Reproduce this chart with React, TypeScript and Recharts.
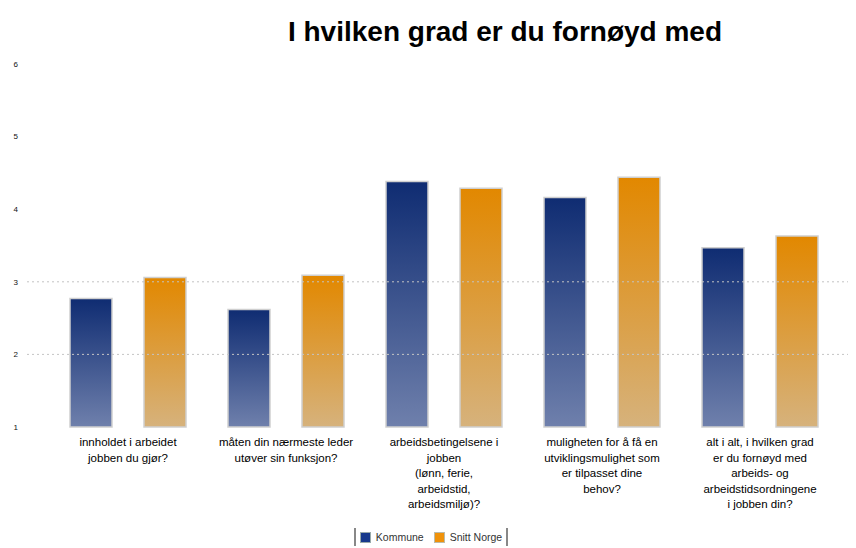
import React from 'react';
import { BarChart, Bar, XAxis, YAxis, ReferenceLine, Legend } from 'recharts';

const categories = [
  'innholdet i arbeidet\njobben du gjør?',
  'måten din nærmeste leder\nutøver sin funksjon?',
  'arbeidsbetingelsene i\njobben\n(lønn, ferie,\narbeidstid,\narbeidsmiljø)?',
  'muligheten for å få en\nutviklingsmulighet som\ner tilpasset dine\nbehov?',
  'alt i alt, i hvilken grad\ner du fornøyd med\narbeids- og\narbeidstidsordningene\ni jobben din?',
];
const kommune = [2.77, 2.62, 4.38, 4.16, 3.47];
const snittNorge = [3.06, 3.09, 4.29, 4.44, 3.63];
const yTicks = [1, 2, 3, 4, 5, 6];
const gridValues = [2, 3];
const seriesNames = ['Kommune', 'Snitt Norge'];

const data = categories.map((c, i) => ({ name: c, kommune: kommune[i], norge: snittNorge[i] }));

const CategoryTick = (props: any) => {
  const { x, y, payload } = props;
  const lines = String(payload.value).split('\n');
  return (
    <text x={x} y={y + 3} textAnchor="middle" fontFamily="Liberation Sans, Arial, sans-serif" fontSize={11.5} fill="#000">
      {lines.map((l, i) => (
        <tspan key={i} x={x} dy={i === 0 ? 8 : 15.5}>{l}</tspan>
      ))}
    </text>
  );
};

const LegendContent = () => (
  <div style={{ display: 'flex', justifyContent: 'center', height: 20, alignItems: 'center' }}>
    <div style={{ display: 'flex', alignItems: 'center', borderLeft: '2px solid #888', borderRight: '2px solid #888', height: 18, padding: '0 4px', fontFamily: 'Liberation Sans, Arial, sans-serif', fontSize: 10.5, color: '#333' }}>
      <span style={{ display: 'inline-block', width: 9, height: 9, background: '#17398c', border: '1px solid #9aa', marginRight: 5 }} />
      <span style={{ marginRight: 10 }}>{seriesNames[0]}</span>
      <span style={{ display: 'inline-block', width: 9, height: 9, background: '#f0920a', border: '1px solid #bba', marginRight: 5 }} />
      <span>{seriesNames[1]}</span>
    </div>
  </div>
);

export default function App() {
  return (
    <div style={{ position: 'relative', width: 848, height: 540 }}>
      <div style={{ position: 'absolute', left: 0, width: 994, top: 8, textAlign: 'center', fontFamily: 'Liberation Sans, Arial, sans-serif', fontWeight: 'bold', fontSize: 28, color: '#000', lineHeight: '32px' }}>
        I hvilken grad er du fornøyd med
      </div>
      <BarChart width={848} height={540} data={data} margin={{ top: 56, right: 2, bottom: 1, left: 0 }} barGap={32} barSize={42}>
        <defs>
          <linearGradient id="gBlue" x1="0" y1="0" x2="0" y2="1">
            <stop offset="0%" stopColor="#0f2c72" />
            <stop offset="100%" stopColor="#6f80ac" />
          </linearGradient>
          <linearGradient id="gOrange" x1="0" y1="0" x2="0" y2="1">
            <stop offset="0%" stopColor="#e28800" />
            <stop offset="100%" stopColor="#d6b27c" />
          </linearGradient>
        </defs>
        <XAxis dataKey="name" tick={<CategoryTick />} tickLine={false} axisLine={false} height={100} interval={0} padding={{ left: 22, right: 15 }} />
        <YAxis domain={[1, 6]} ticks={yTicks} tickLine={false} axisLine={false} width={19} tickMargin={3} tick={{ fontSize: 8, fill: '#111', fontFamily: 'Liberation Sans, Arial, sans-serif' }} />
        {gridValues.map((v) => (
          <ReferenceLine key={v} y={v} stroke="#c4c4c4" strokeDasharray="2 3" />
        ))}
        <Legend verticalAlign="bottom" height={20} content={<LegendContent />} />
        <Bar dataKey="kommune" name={seriesNames[0]} fill="url(#gBlue)" stroke="#cfcfcf" strokeWidth={1.5} isAnimationActive={false} />
        <Bar dataKey="norge" name={seriesNames[1]} fill="url(#gOrange)" stroke="#cfcfcf" strokeWidth={1.5} isAnimationActive={false} />
      </BarChart>
    </div>
  );
}
